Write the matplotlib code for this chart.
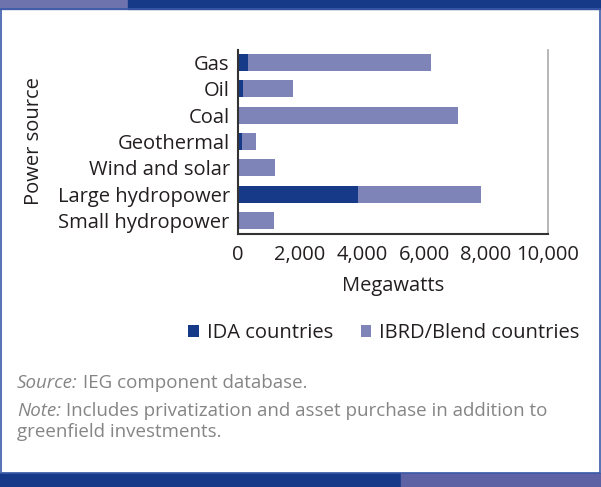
import matplotlib
matplotlib.use("Agg")
import matplotlib.pyplot as plt
from matplotlib.patches import Rectangle
import numpy as np

plt.rcParams['font.family'] = ['Open Sans', 'DejaVu Sans']

# megawatts by power source
sources = ["Gas", "Oil", "Coal", "Geothermal", "Wind and solar",
           "Large hydropower", "Small hydropower"]
ida = [320, 160, 0, 120, 0, 3870, 0]
ibrd = [5900, 1610, 7100, 460, 1190, 3970, 1160]
xticks = [0, 2000, 4000, 6000, 8000, 10000]

dark = "#163a88"
light = "#7e84b8"
txt = "#231f20"
fs = 14.5

fig = plt.figure(figsize=(6.01, 4.87), dpi=100)

# top and bottom colour bands plus the thin side frame
fig.patches.append(Rectangle((0, 1 - 9/487), 128/601, 9/487, transform=fig.transFigure,
                             color="#6e72ad", zorder=0))
fig.patches.append(Rectangle((128/601, 1 - 9/487), 1, 9/487, transform=fig.transFigure,
                             color=dark, zorder=0))
fig.patches.append(Rectangle((0, 0), 401/601, 14/487, transform=fig.transFigure,
                             color=dark, zorder=0))
fig.patches.append(Rectangle((401/601, 0), 200/601, 14/487, transform=fig.transFigure,
                             color="#5c62a4", zorder=0))
fig.patches.append(Rectangle((0.5/601, 14/487), 599.5/601, (487-23)/487,
                             transform=fig.transFigure, fill=False,
                             edgecolor="#3a5aa8", linewidth=1.2, zorder=0))

ax = fig.add_axes([238/601, 1 - 233.5/487, 310/601, 184/487])
y = np.arange(len(sources))
ax.barh(y, ida, height=0.65, color=dark, label="IDA countries")
ax.barh(y, ibrd, left=ida, height=0.65, color=light, label="IBRD/Blend countries")

ax.set_ylim(len(sources) - 0.5, -0.5)
ax.set_xlim(0, 10000)
ax.set_yticks(y)
ax.set_yticklabels(sources, fontsize=fs, color=txt)
ax.set_xticks(xticks)
ax.set_xticklabels([f"{v:,}" for v in xticks], fontsize=fs, color=txt)
ax.tick_params(axis='y', length=0, pad=6)
ax.tick_params(axis='x', length=0, pad=8)
ax.set_xlabel("Megawatts", fontsize=fs, color=txt, labelpad=8)
ax.set_ylabel("Power source", fontsize=fs, color=txt, labelpad=10)

for s in ["left", "bottom"]:
    ax.spines[s].set_color("#333333")
    ax.spines[s].set_linewidth(1.5)
ax.spines["right"].set_color("#aaaaaa")
ax.spines["right"].set_linewidth(1.2)
ax.spines["top"].set_visible(False)

ax.legend(loc="center", bbox_to_anchor=(384/601, 1 - 333/487), bbox_transform=fig.transFigure,
          ncol=2, frameon=False, fontsize=fs, handlelength=0.5, handleheight=0.5,
          handletextpad=0.4, columnspacing=1.4, labelcolor=txt)

gray = "#858585"
fsn = 13.5


def line(x, yy, parts):
    # italic and regular pieces placed one after another
    r = fig.canvas.get_renderer()
    for s, style in parts:
        t = fig.text(x, yy, s, fontsize=fsn, color=gray, va="center", style=style)
        bb = t.get_window_extent(renderer=r)
        x += bb.width / fig.bbox.width


line(17/601, 1 - 383/487, [("Source:", "italic"), (" IEG component database.", "normal")])
line(17/601, 1 - 411/487, [("Note:", "italic"),
                           (" Includes privatization and asset purchase in addition to", "normal")])
line(17/601, 1 - 432/487, [("greenfield investments.", "normal")])

fig.savefig("out.png", dpi=100)
